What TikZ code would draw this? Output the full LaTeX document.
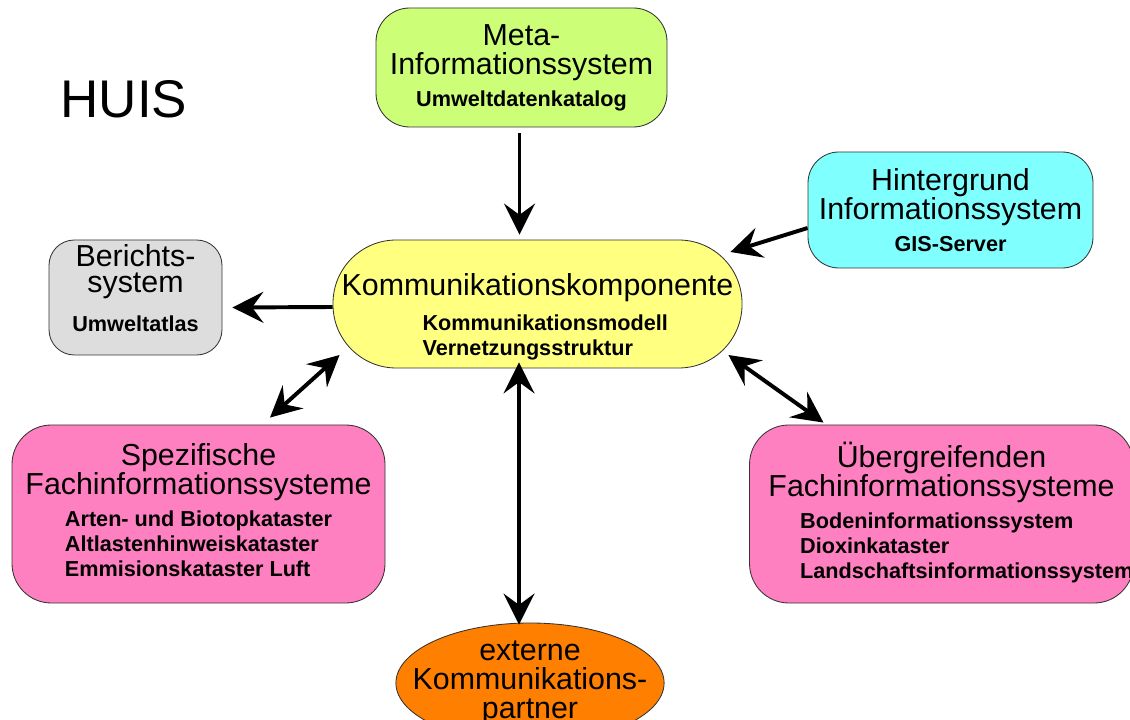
\documentclass[tikz,border=0pt]{standalone}
\usepackage{fontspec}
\setmainfont{Liberation Sans}
\usepackage{tikz}
\usetikzlibrary{shapes.geometric, arrows.meta, calc}
\usepackage{xcolor}
\definecolor{metagruen}{RGB}{204,255,119}
\definecolor{hintercyan}{RGB}{128,255,255}
\definecolor{berichtgrau}{RGB}{221,221,221}
\definecolor{kkgelb}{RGB}{255,255,128}
\definecolor{fachrosa}{RGB}{255,128,192}
\definecolor{extorange}{RGB}{255,128,0}
\newcommand{\hauptfs}{\fontsize{21.6}{20.7}\selectfont}
\newcommand{\unterfs}{\fontsize{15.4}{17.7}\selectfont\bfseries}

\begin{document}
\begin{tikzpicture}[x=0.025cm, y=-0.025cm,
    kasten/.style={draw=black!80, line width=0.6pt, align=center, inner sep=0pt, font=\hauptfs},
    pfeil/.style={line width=2.8pt, -{Stealth[length=22pt, width=22pt, inset=8pt]}},
    doppelpfeil/.style={line width=2.8pt, {Stealth[length=22pt, width=22pt, inset=8pt]}-{Stealth[length=22pt, width=22pt, inset=8pt]}}]
    \useasboundingbox (0,0) rectangle (1130,720);
    \clip (0,0) rectangle (1130,720);

    \node (huis) at (124,99) {\fontsize{37.7}{40}\selectfont HUIS};

    % Systeme
    \node[kasten, fill=metagruen, rounded corners=24pt, minimum width=291*0.025cm, minimum height=119*0.025cm] (meta) at (521.5,67.5)
        {Meta-\\Informationssystem\\[2pt]{\unterfs Umweltdatenkatalog}};
    \node[kasten, fill=hintercyan, rounded corners=22pt, minimum width=285*0.025cm, minimum height=116*0.025cm] (hinter) at (950.5,210)
        {Hintergrund\\Informationssystem\\[2pt]{\unterfs GIS-Server}};
    \node[kasten, fill=berichtgrau, rounded corners=18pt, minimum width=173*0.025cm, minimum height=115*0.025cm] (berichts) at (135.5,297.5)
        {Berichts-\\[-2pt]system\\[7pt]{\unterfs Umweltatlas}\rule[-14pt]{0pt}{1pt}};
    \node[kasten, fill=kkgelb, rounded corners=45pt, minimum width=409*0.025cm, minimum height=128*0.025cm] (kk) at (537.5,304)
        {\rule{0pt}{36pt}Kommunikationskomponente\\[4pt]\hspace*{11pt}{\unterfs\begin{tabular}[t]{@{}l@{}}Kommunikationsmodell\\Vernetzungsstruktur\end{tabular}}};
    \node[kasten, fill=fachrosa, rounded corners=28pt, minimum width=373*0.025cm, minimum height=178*0.025cm] (spez) at (198.5,514)
        {Spezifische\\Fachinformationssysteme\\[2pt]{\unterfs\begin{tabular}[t]{@{}l@{}}Arten- und Biotopkataster\\Altlastenhinweiskataster\\Emmisionskataster Luft\end{tabular}}};
    \node[kasten, fill=fachrosa, rounded corners=28pt, minimum width=373*0.025cm, minimum height=178*0.025cm] (ueber) at (941.5,514)
        {Übergreifenden\\Fachinformationssysteme\\[2pt]\hspace*{36pt}{\unterfs\begin{tabular}[t]{@{}l@{}}Bodeninformationssystem\\Dioxinkataster\\Landschaftsinformationssystem\end{tabular}}};
    \node[kasten, ellipse, fill=extorange, inner xsep=-16pt, minimum height=120*0.025cm] (extern) at (530,683)
        {externe\\Kommunikations-\\partner};

    % Verbindungen
    \draw[pfeil] ($(meta.south)+(-2,6)$) -- ($(kk.north)+(-18,-5)$);
    \draw[pfeil] ($(hinter.west)+(0,18)$) -- ($(kk.east)+(-12,-52)$);
    \draw[pfeil] ($(kk.west)+(0,3)$) -- ($(berichts.east)+(10,10)$);
    \draw[doppelpfeil] ($(spez.north)+(71.5,-7)$) -- ($(kk.west)+(7,51)$);
    \draw[doppelpfeil] ($(kk.south)+(-18.5,-6)$) -- ($(extern.north)+(-11,2)$);
    \draw[doppelpfeil] ($(kk.east)+(-14,51)$) -- ($(ueber.north)+(-118,-2)$);
\end{tikzpicture}
\end{document}
